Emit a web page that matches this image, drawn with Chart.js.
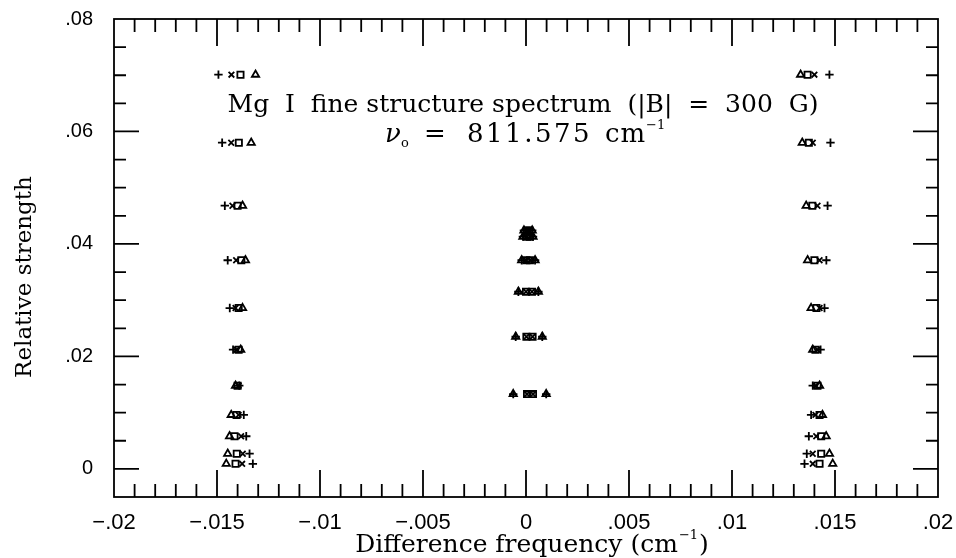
<!DOCTYPE html>
<html>
<head>
<meta charset="utf-8">
<script src="https://cdn.jsdelivr.net/npm/chart.js@4.4.1/dist/chart.umd.min.js"></script>
<style>
  html, body { margin: 0; padding: 0; background: #fff; }
  #wrap { width: 956px; height: 558px; }
</style>
</head>
<body>
<div id="wrap"><canvas id="spectrumChart" width="956" height="558"></canvas></div>
<script>
// relative strength of each row in the two outer groups
const sideRows = [0.0701, 0.0580, 0.0468, 0.0371, 0.0286, 0.0212, 0.0148, 0.0096, 0.0058, 0.0027, 0.0009];
// relative strength of each row in the central group
const centerRows = [0.0424, 0.0413, 0.0371, 0.0315, 0.0235, 0.0133];

// difference frequency (cm^-1) of each marker, outer groups
const plusLeft = [-0.01493, -0.01475, -0.01462, -0.01448, -0.01438, -0.01422, -0.01392, -0.01370, -0.01358, -0.01342, -0.01326];
const plusRight = [0.01473, 0.01478, 0.01464, 0.01458, 0.01449, 0.01430, 0.01392, 0.01384, 0.01373, 0.01363, 0.01352];
const crossLeft = [-0.01430, -0.01431, -0.01425, -0.01407, -0.01410, -0.01405, -0.01395, -0.01395, -0.01383, -0.01375, -0.01378];
const crossRight = [0.01400, 0.01392, 0.01415, 0.01425, 0.01425, 0.01415, 0.01405, 0.01405, 0.01409, 0.01392, 0.01392];
const squareLeft = [-0.01386, -0.01394, -0.01400, -0.01382, -0.01395, -0.01395, -0.01400, -0.01405, -0.01415, -0.01404, -0.01410];
const squareRight = [0.01367, 0.01373, 0.01390, 0.01400, 0.01410, 0.01405, 0.01415, 0.01425, 0.01433, 0.01433, 0.01425];
const triangleLeft = [-0.01313, -0.01334, -0.01376, -0.01362, -0.01376, -0.01385, -0.01410, -0.01431, -0.01439, -0.01448, -0.01455];
const triangleRight = [0.01333, 0.01341, 0.01360, 0.01367, 0.01384, 0.01392, 0.01425, 0.01439, 0.01457, 0.01473, 0.01489];

// central group: + and triangle sit on the outer pair, square and x on the inner pair
const outerCenterLo = [-0.00010, -0.00015, -0.00021, -0.00037, -0.00050, -0.00062];
const outerCenterHi = [0.00030, 0.00034, 0.00044, 0.00060, 0.00079, 0.00098];
const innerCenterLo = [0.00004, 0.00005, 0.00002, 0.00000, 0.00002, 0.00005];
const innerCenterHi = [0.00016, 0.00019, 0.00019, 0.00029, 0.00032, 0.00034];

// axis ticks
const xMajorStep = 0.005, xMinorStep = 0.001;
const yMajorStep = 0.02, yMinorStep = 0.005;

function points(left, right, lo, hi) {
  const pts = [];
  sideRows.forEach((y, i) => { pts.push({x: left[i], y: y}); pts.push({x: right[i], y: y}); });
  centerRows.forEach((y, i) => { pts.push({x: lo[i], y: y}); pts.push({x: hi[i], y: y}); });
  return pts;
}

function isMulti(v, step) {
  const r = v / step;
  return Math.abs(r - Math.round(r)) < 1e-6;
}

function fmt(v) {
  if (Math.abs(v) < 1e-9) return '0';
  let s = String(+v.toFixed(3));
  s = s.replace('0.', '.').replace('-', '\u2212');
  return s;
}

const serif = '"DejaVu Serif"';

const framePlugin = {
  id: 'frame',
  afterDraw(chart) {
    const ctx = chart.ctx, a = chart.chartArea;
    const xs = chart.scales.x, ys = chart.scales.y;
    ctx.save();
    ctx.strokeStyle = '#000';
    ctx.lineWidth = 1.8;
    ctx.strokeRect(a.left, a.top, a.right - a.left, a.bottom - a.top);

    // inward ticks on all four sides
    ctx.beginPath();
    xs.ticks.forEach(t => {
      const px = xs.getPixelForValue(t.value);
      if (px <= a.left + 1 || px >= a.right - 1) return;
      const len = isMulti(t.value, xMajorStep) ? 27 : 13;
      ctx.moveTo(px, a.bottom); ctx.lineTo(px, a.bottom - len);
      ctx.moveTo(px, a.top); ctx.lineTo(px, a.top + len);
    });
    ys.ticks.forEach(t => {
      const py = ys.getPixelForValue(t.value);
      if (py <= a.top + 1 || py >= a.bottom - 1) return;
      const len = isMulti(t.value, yMajorStep) ? 25 : 12;
      ctx.moveTo(a.left, py); ctx.lineTo(a.left + len, py);
      ctx.moveTo(a.right, py); ctx.lineTo(a.right - len, py);
    });
    ctx.stroke();

    ctx.fillStyle = '#000';
    ctx.textBaseline = 'alphabetic';

    // title inside the plot
    ctx.font = '25px ' + serif;
    ctx.textAlign = 'center';
    ctx.fillText('Mg  I  fine structure spectrum  (|B|  =  300  G)', 523, 112);

    // nu_0 line
    ctx.textAlign = 'left';
    ctx.font = 'italic 26px ' + serif;
    ctx.fillText('\u03bd', 385, 142);
    ctx.font = '13px ' + serif;
    ctx.fillText('o', 401, 147);
    ctx.font = '26px ' + serif;
    ctx.fillText('=', 424, 142);
    ctx.letterSpacing = '2.5px';
    ctx.fillText('811.575', 467, 142);
    ctx.letterSpacing = '1px';
    ctx.fillText('cm', 605, 142);
    ctx.letterSpacing = '0px';
    ctx.font = '13px ' + serif;
    ctx.fillText('\u22121', 646, 129);

    // x axis title
    ctx.font = '25px ' + serif;
    const xt = 'Difference frequency (cm';
    const wMain = ctx.measureText(xt).width;
    ctx.font = '13px ' + serif;
    const wSup = ctx.measureText('\u22121').width;
    ctx.font = '25px ' + serif;
    const wEnd = ctx.measureText(')').width;
    let tx = 532 - (wMain + wSup + wEnd + 2) / 2;
    ctx.fillText(xt, tx, 552);
    tx += wMain + 1;
    ctx.font = '13px ' + serif;
    ctx.fillText('\u22121', tx, 539);
    tx += wSup + 1;
    ctx.font = '25px ' + serif;
    ctx.fillText(')', tx, 552);

    // y axis title
    ctx.save();
    ctx.translate(31, 277);
    ctx.rotate(-Math.PI / 2);
    ctx.textAlign = 'center';
    ctx.font = '23px ' + serif;
    ctx.fillText('Relative strength', 0, 0);
    ctx.restore();

    ctx.restore();
  }
};

const markerStyle = { borderColor: '#000', backgroundColor: 'rgba(0,0,0,0)', pointBorderWidth: 1.8, showLine: false };

new Chart(document.getElementById('spectrumChart'), {
  type: 'scatter',
  data: {
    datasets: [
      Object.assign({ label: '+', data: points(plusLeft, plusRight, outerCenterLo, outerCenterHi), pointStyle: 'cross', pointRadius: 4.2 }, markerStyle),
      Object.assign({ label: 'x', data: points(crossLeft, crossRight, innerCenterLo, innerCenterHi), pointStyle: 'crossRot', pointRadius: 4.0 }, markerStyle),
      Object.assign({ label: 'square', data: points(squareLeft, squareRight, innerCenterLo, innerCenterHi), pointStyle: 'rect', pointRadius: 4.4 }, markerStyle),
      Object.assign({ label: 'triangle', data: points(triangleLeft, triangleRight, outerCenterLo, outerCenterHi), pointStyle: 'triangle', pointRadius: 4.2 }, markerStyle)
    ]
  },
  options: {
    responsive: false,
    animation: false,
    devicePixelRatio: 1,
    layout: { padding: { left: 0, right: 18, top: 19, bottom: 0 } },
    plugins: { legend: { display: false }, tooltip: { enabled: false } },
    scales: {
      x: {
        type: 'linear', min: -0.02, max: 0.02,
        grid: { display: false, drawTicks: false },
        border: { display: false },
        afterFit: s => { s.height = 61; s.paddingLeft = 0; s.paddingRight = 0; },
        ticks: {
          stepSize: xMinorStep, autoSkip: false, maxRotation: 0, padding: 13,
          color: '#000', font: { family: 'Liberation Sans', size: 22 },
          callback: v => isMulti(v, xMajorStep) ? fmt(v) : ''
        }
      },
      y: {
        type: 'linear', min: -0.005, max: 0.08,
        grid: { display: false, drawTicks: false },
        border: { display: false },
        afterFit: s => { s.width = 114; s.paddingTop = 0; s.paddingBottom = 0; },
        ticks: {
          stepSize: yMinorStep, autoSkip: false, padding: 21,
          color: '#000', font: { family: 'Liberation Sans', size: 20 },
          callback: v => (isMulti(v, yMajorStep) && v > -1e-9) ? fmt(v) : ''
        }
      }
    }
  },
  plugins: [framePlugin]
});
</script>
</body>
</html>
